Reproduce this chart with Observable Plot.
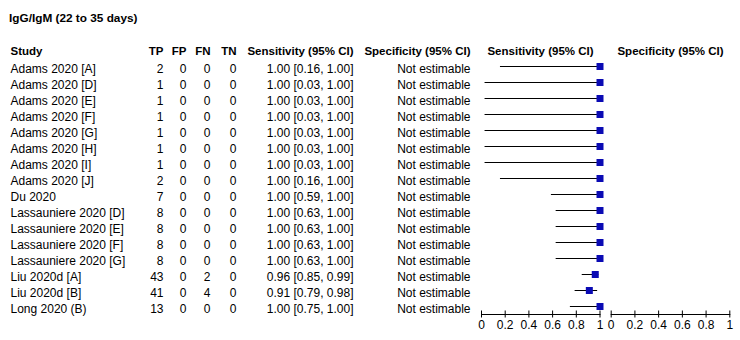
<!DOCTYPE html>
<html>
<head>
<meta charset="utf-8">
<script src="https://cdn.jsdelivr.net/npm/d3@7"></script>
<script src="https://cdn.jsdelivr.net/npm/@observablehq/plot@0.6"></script>
<style>
  html, body { margin: 0; padding: 0; background: #fff; }
  #wrap { position: relative; width: 740px; height: 340px; font-family: "Liberation Sans", Arial, sans-serif; }
  #wrap svg { position: absolute; left: 0; top: 0; }
  #title { position: absolute; left: 9px; top: 11px; font-size: 11.8px; line-height: 14px; font-weight: bold; color: #000; white-space: nowrap; }
</style>
</head>
<body>
<div id="wrap"><div id="title">IgG/IgM (22 to 35 days)</div></div>
<script>
const studies = ["Adams 2020 [A]", "Adams 2020 [D]", "Adams 2020 [E]", "Adams 2020 [F]", "Adams 2020 [G]", "Adams 2020 [H]", "Adams 2020 [I]", "Adams 2020 [J]", "Du 2020", "Lassauniere 2020 [D]", "Lassauniere 2020 [E]", "Lassauniere 2020 [F]", "Lassauniere 2020 [G]", "Liu 2020d [A]", "Liu 2020d [B]", "Long 2020 (B)"];
const tp = [2, 1, 1, 1, 1, 1, 1, 2, 7, 8, 8, 8, 8, 43, 41, 13];
const fp = [0, 0, 0, 0, 0, 0, 0, 0, 0, 0, 0, 0, 0, 0, 0, 0];
const fn = [0, 0, 0, 0, 0, 0, 0, 0, 0, 0, 0, 0, 0, 2, 4, 0];
const tn = [0, 0, 0, 0, 0, 0, 0, 0, 0, 0, 0, 0, 0, 0, 0, 0];
const sens = [1.00, 1.00, 1.00, 1.00, 1.00, 1.00, 1.00, 1.00, 1.00, 1.00, 1.00, 1.00, 1.00, 0.96, 0.91, 1.00];
const sensLo = [0.16, 0.03, 0.03, 0.03, 0.03, 0.03, 0.03, 0.16, 0.59, 0.63, 0.63, 0.63, 0.63, 0.85, 0.79, 0.75];
const sensHi = [1.00, 1.00, 1.00, 1.00, 1.00, 1.00, 1.00, 1.00, 1.00, 1.00, 1.00, 1.00, 1.00, 0.99, 0.98, 1.00];
const specText = studies.map(() => "Not estimable");
const axisTicks = [0, 0.2, 0.4, 0.6, 0.8, 1];
const axisTickLabels = ["0", "0.2", "0.4", "0.6", "0.8", "1"];

const rows = studies.map((s, i) => ({
  study: s, tp: tp[i], fp: fp[i], fn: fn[i], tn: tn[i],
  sens: sens[i], lo: sensLo[i], hi: sensHi[i], spec: specText[i],
  sensText: `${sens[i].toFixed(2)} [${sensLo[i].toFixed(2)}, ${sensHi[i].toFixed(2)}]`
}));

const HDR = "__header__";
const font = "'Liberation Sans', Arial, sans-serif";
const baseStyle = {background: "transparent", fontFamily: font, fontSize: "12px", color: "#000", overflow: "visible"};

// table layout (column anchors in pixels)
const columns = [
  {header: "Study", value: "study", x: 10, anchor: "start"},
  {header: "TP", value: "tp", x: 163, anchor: "end"},
  {header: "FP", value: "fp", x: 186, anchor: "end"},
  {header: "FN", value: "fn", x: 210, anchor: "end"},
  {header: "TN", value: "tn", x: 236, anchor: "end"},
  {header: "Sensitivity (95% CI)", value: "sensText", x: 353, anchor: "end"},
  {header: "Specificity (95% CI)", value: "spec", x: 470, anchor: "end"}
];
const panelHeaders = [
  {header: "Sensitivity (95% CI)", x: 540},
  {header: "Specificity (95% CI)", x: 670}
];
const headerSize = 11.5;

const tableMarks = [];
for (const c of columns) {
  tableMarks.push(Plot.text([c.header], {x: () => c.x, y: () => HDR, text: d => d, textAnchor: c.anchor, fontWeight: "bold", fontSize: headerSize, dy: 1, fill: "#000"}));
  tableMarks.push(Plot.text(rows, {x: () => c.x, y: "study", text: c.value, textAnchor: c.anchor, dy: 3, fill: "#000"}));
}
for (const p of panelHeaders) {
  tableMarks.push(Plot.text([p.header], {x: () => p.x, y: () => HDR, text: d => d, textAnchor: "middle", fontWeight: "bold", fontSize: headerSize, dy: 1, fill: "#000"}));
}

const table = Plot.plot({
  width: 740, height: 340, margin: 0,
  x: {type: "identity", axis: null},
  y: {type: "point", domain: [HDR, ...studies], range: [50, 306], padding: 0, axis: null},
  style: baseStyle,
  marks: tableMarks
});

function axisMarks() {
  return [
    Plot.frame({anchor: "bottom", stroke: "#000"}),
    Plot.tickX(axisTicks, {x: d => d, insetTop: 310.5, stroke: "#000"}),
    Plot.axisX(axisTicks, {tickSize: 3.5, tickPadding: 2, tickFormat: (d, i) => axisTickLabels[i], stroke: "#000", fill: "#000", fontSize: 12})
  ];
}

const sensPlot = Plot.plot({
  width: 740, height: 340,
  marginLeft: 481, marginRight: 140.5, marginTop: 0, marginBottom: 26,
  x: {domain: [0, 1]},
  y: {type: "point", domain: studies, range: [66, 306], padding: 0, axis: null},
  style: baseStyle,
  marks: [
    Plot.ruleY(rows, {y: "study", x1: "lo", x2: "hi", stroke: "#000", strokeWidth: 1}),
    Plot.dot(rows, {x: "sens", y: "study", symbol: "square", r: 3.95, fill: "#0a0ab4", stroke: null}),
    ...axisMarks()
  ]
});

const specPlot = Plot.plot({
  width: 740, height: 340,
  marginLeft: 610.7, marginRight: 10.7, marginTop: 0, marginBottom: 26,
  x: {domain: [0, 1]},
  style: baseStyle,
  marks: axisMarks()
});

const wrap = document.getElementById("wrap");
wrap.appendChild(table);
wrap.appendChild(sensPlot);
wrap.appendChild(specPlot);
</script>
</body>
</html>
